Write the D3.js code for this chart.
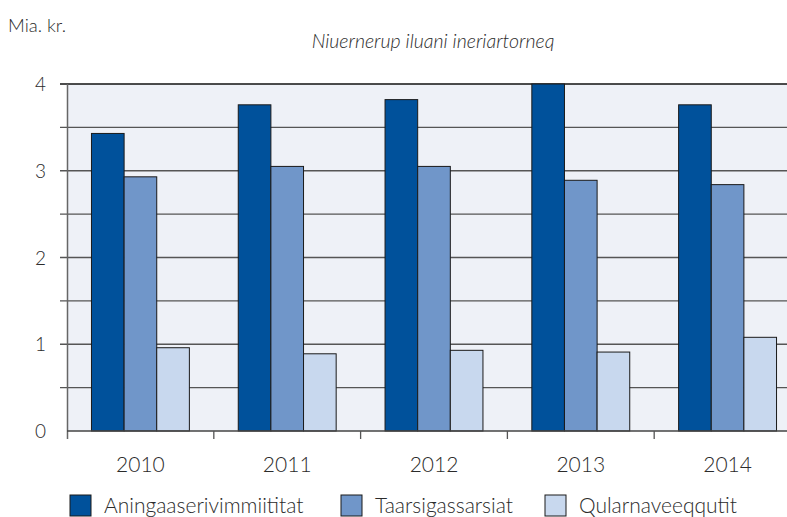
<!DOCTYPE html>
<html>
<head>
<meta charset="utf-8">
<script src="https://cdn.jsdelivr.net/npm/d3@7"></script>
<style>
    body { margin: 0; background: #fff; }
    text { font-family: Lato, "Open Sans", sans-serif; font-weight: 300; fill: #2b2b2b; }
</style>
</head>
<body>
<div id="chart"></div>
<script>
var years = ['2010', '2011', '2012', '2013', '2014'];
var seriesNames = ['Aningaaserivimmiititat', 'Taarsigassarsiat', 'Qularnaveeqqutit'];
var aningaaserivimmiititat = [3.43, 3.76, 3.82, 4.0, 3.76];
var taarsigassarsiat = [2.93, 3.05, 3.05, 2.89, 2.84];
var qularnaveeqqutit = [0.96, 0.89, 0.93, 0.91, 1.08];
var yTicks = [0, 1, 2, 3, 4];
var gridValues = [0.5, 1, 1.5, 2, 2.5, 3, 3.5, 4];

var colors = ['#00519b', '#7096c9', '#c8d8ee'];
var allSeries = [aningaaserivimmiititat, taarsigassarsiat, qularnaveeqqutit];

var width = 787;
var height = 517;
var plot = {left: 67, right: 801, top: 84, bottom: 431};

var svg = d3.select('#chart')
    .append('svg')
    .attr('width', width)
    .attr('height', height);

var x0 = d3.scaleBand()
    .domain(years)
    .range([plot.left, plot.right])
    .paddingInner(0.333)
    .paddingOuter(0.1667);
var x1 = d3.scaleBand()
    .domain(d3.range(seriesNames.length))
    .range([0, x0.bandwidth()]);
var yScale = d3.scaleLinear()
    .domain([0, 4])
    .range([plot.bottom, plot.top]);

// plot background
svg.append('rect')
    .attr('x', plot.left)
    .attr('y', plot.top)
    .attr('width', plot.right - plot.left)
    .attr('height', plot.bottom - plot.top)
    .attr('fill', '#eef1f7');

// gridlines every 0.5
svg.append('g')
    .selectAll('line')
    .data(gridValues)
    .enter()
    .append('line')
    .attr('x1', plot.left - 7)
    .attr('x2', plot.right)
    .attr('y1', function (d) { return yScale(d); })
    .attr('y2', function (d) { return yScale(d); })
    .attr('stroke', function (d) { return d === 4 ? '#111' : '#555'; })
    .attr('stroke-width', 1.3);

// left axis line
svg.append('line')
    .attr('x1', plot.left + 0.5).attr('x2', plot.left + 0.5)
    .attr('y1', plot.top).attr('y2', plot.bottom + 8)
    .attr('stroke', '#666')
    .attr('stroke-width', 1.5);

// y labels
svg.append('g')
    .selectAll('text')
    .data(yTicks)
    .enter()
    .append('text')
    .attr('x', 46)
    .attr('y', function (d) { return yScale(d) + 7; })
    .attr('text-anchor', 'end')
    .attr('font-size', 19)
    .text(function (d) { return d; });

// bars
var groups = svg.append('g')
    .selectAll('g')
    .data(years)
    .enter()
    .append('g')
    .attr('transform', function (d) { return 'translate(' + x0(d) + ',0)'; });

groups.selectAll('rect')
    .data(function (d, i) {
        return allSeries.map(function (s, k) { return {k: k, v: s[i]}; });
    })
    .enter()
    .append('rect')
    .attr('x', function (d) { return x1(d.k); })
    .attr('y', function (d) { return yScale(d.v); })
    .attr('width', x1.bandwidth())
    .attr('height', function (d) { return plot.bottom - yScale(d.v); })
    .attr('fill', function (d) { return colors[d.k]; })
    .attr('stroke', '#1a1a1a')
    .attr('stroke-width', 1);

// x axis line + boundary ticks
svg.append('line')
    .attr('x1', plot.left).attr('x2', plot.right)
    .attr('y1', plot.bottom).attr('y2', plot.bottom)
    .attr('stroke', '#444')
    .attr('stroke-width', 1.5);

svg.append('g')
    .selectAll('line')
    .data(years.slice(1))
    .enter()
    .append('line')
    .attr('x1', function (d) { return x0(d) - x0.step() * x0.paddingInner() / 2; })
    .attr('x2', function (d) { return x0(d) - x0.step() * x0.paddingInner() / 2; })
    .attr('y1', plot.bottom)
    .attr('y2', plot.bottom + 8)
    .attr('stroke', '#555')
    .attr('stroke-width', 1.3);

svg.append('g')
    .selectAll('text')
    .data(years)
    .enter()
    .append('text')
    .attr('x', function (d) { return x0(d) + x0.bandwidth() / 2; })
    .attr('y', 472)
    .attr('text-anchor', 'middle')
    .attr('font-size', 21)
    .text(function (d) { return d; });

// titles
svg.append('text')
    .attr('x', 8)
    .attr('y', 32)
    .attr('font-size', 18.5)
    .text('Mia. kr.');

svg.append('text')
    .attr('x', 433)
    .attr('y', 48)
    .attr('text-anchor', 'middle')
    .attr('font-size', 19.5)
    .attr('font-style', 'italic')
    .text('Niuernerup iluani ineriartorneq');

// legend
var legendX = [70, 341, 545];
var legend = svg.append('g')
    .selectAll('g')
    .data(seriesNames)
    .enter()
    .append('g')
    .attr('transform', function (d, i) { return 'translate(' + legendX[i] + ',495)'; });
legend.append('rect')
    .attr('width', 21)
    .attr('height', 21)
    .attr('fill', function (d, i) { return colors[i]; })
    .attr('stroke', '#1a1a1a')
    .attr('stroke-width', 1);
legend.append('text')
    .attr('x', 34)
    .attr('y', 18)
    .attr('font-size', 21)
    .text(function (d) { return d; });
</script>
</body>
</html>
